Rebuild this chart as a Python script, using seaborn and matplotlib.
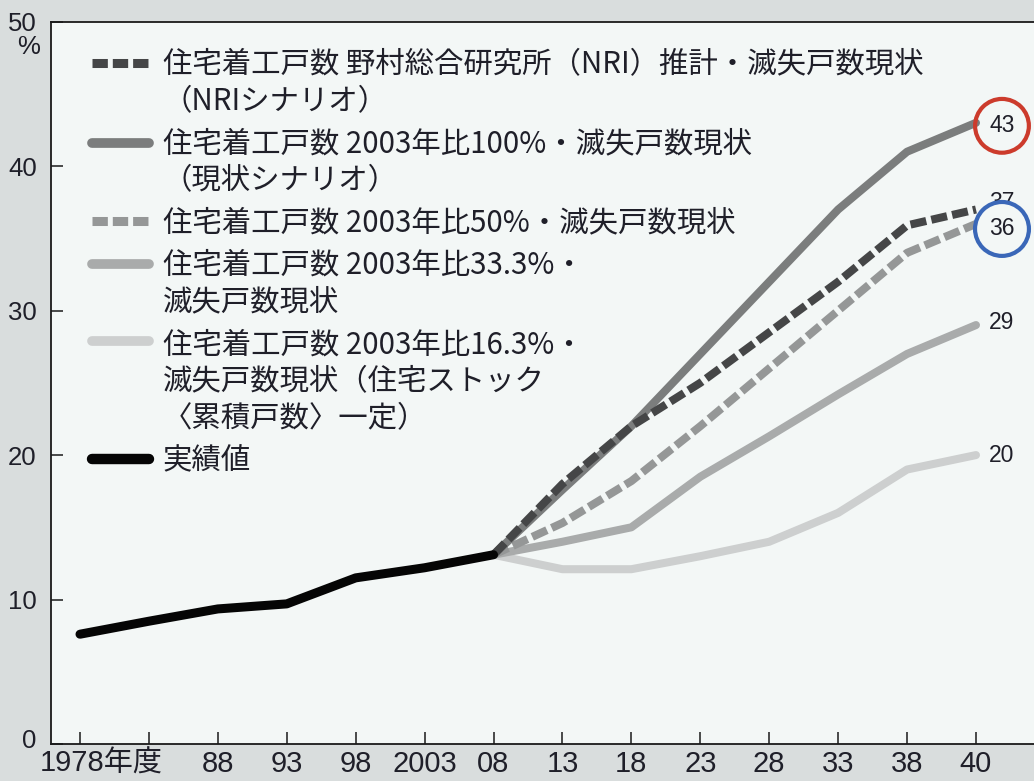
import matplotlib
matplotlib.use("Agg")
import matplotlib.pyplot as plt
from matplotlib import font_manager as fm
from matplotlib.lines import Line2D
from matplotlib.legend_handler import HandlerLine2D
from matplotlib.transforms import ScaledTranslation
import numpy as np
import pandas as pd
import seaborn as sns

# ---------------- data ----------------
periods = ['1978', '83', '88', '93', '98', '2003', '08', '13', '18', '23', '28', '33', '38', '40']
tick_labels = ['1978年度', '', '88', '93', '98', '2003', '08', '13', '18', '23', '28', '33', '38', '40']

actual_vals = [7.6, 8.5, 9.35, 9.7, 11.5, 12.2, 13.1]          # 1978 - 2008
nri_vals = [13.1, 18.0, 22.0, 25.0, 28.5, 32.0, 35.9, 37.0]     # 2008 - 2040
s100_vals = [13.1, 17.6, 22.0, 27.0, 32.0, 37.0, 41.0, 43.0]
s50_vals = [13.1, 15.3, 18.2, 22.0, 26.0, 30.0, 34.0, 36.0]
s33_vals = [13.1, 14.0, 15.0, 18.5, 21.3, 24.2, 27.0, 29.0]
s16_vals = [13.1, 12.1, 12.1, 13.0, 14.0, 16.0, 19.0, 20.0]

series_names = [
    '住宅着工戸数 野村総合研究所（NRI）推計・滅失戸数現状\n（NRIシナリオ）',
    '住宅着工戸数 2003年比100%・滅失戸数現状\n（現状シナリオ）',
    '住宅着工戸数 2003年比50%・滅失戸数現状',
    '住宅着工戸数 2003年比33.3%・\n滅失戸数現状',
    '住宅着工戸数 2003年比16.3%・\n滅失戸数現状（住宅ストック\n〈累積戸数〉一定）',
    '実績値',
]
end_labels = ['37', '43', '36', '29', '20']
yticks = [0, 10, 20, 30, 40, 50]

# ---------------- fonts ----------------
avail = {f.name for f in fm.fontManager.ttflist}
narrow = 'Liberation Sans Narrow' if 'Liberation Sans Narrow' in avail else 'Liberation Sans'
regular = 'Liberation Sans' if 'Liberation Sans' in avail else 'DejaVu Sans'
cjk = 'Noto Sans CJK JP'
plt.rcParams['font.family'] = [cjk, 'DejaVu Sans']
txt_color = '#1f1f29'

LEG_FS = 21.2
LEG_LS = 1.24

# ---------------- frame ----------------
fig = plt.figure(figsize=(10.34, 7.81), dpi=100, facecolor='#d9dddd')
W, H = 1034, 781
left_px, right_px, top_px, bot_px = 50.7, 1040, 21.7, 744
ax = fig.add_axes([left_px / W, (H - bot_px) / H, (right_px - left_px) / W, (bot_px - top_px) / H])
ax.set_facecolor('#f3f7f6')

# ---------------- lines ----------------
fut_x = list(range(6, 14))
act_x = list(range(0, 7))
styles = [
    (series_names[4], fut_x, s16_vals, '#cdcfcf', 5.8, None, 2),
    (series_names[3], fut_x, s33_vals, '#a9abab', 5.8, None, 3),
    (series_names[2], fut_x, s50_vals, '#959797', 5.8, (2.0, 0.65), 4),
    (series_names[1], fut_x, s100_vals, '#7b7d7d', 5.8, None, 5),
    (series_names[0], fut_x, nri_vals, '#454647', 5.8, (2.0, 0.65), 6),
    (series_names[5], act_x, actual_vals, '#050505', 6.5, None, 7),
]
for name, xs, ys, col, lw, dsh, z in styles:
    df = pd.DataFrame({'x': xs, 'y': ys})
    kw = {}
    if dsh is not None:
        kw['linestyle'] = (0, dsh)
        kw['dash_capstyle'] = 'butt'
    else:
        kw['solid_capstyle'] = 'round'
    sns.lineplot(data=df, x='x', y='y', ax=ax, color=col, lw=lw, zorder=z,
                 sort=False, estimator=None, legend=False, **kw)

# ---------------- axes ----------------
ax.set_xlim(-0.425, 13.0 + (right_px - 976) / 68.9)
ax.set_ylim(0, 50)
ax.set_xticks(range(len(periods)))
ax.set_xticklabels(tick_labels)
ax.set_yticks(yticks)
ax.set_yticklabels([str(v) for v in yticks])
ax.set_xlabel('')
ax.set_ylabel('')
for s in ['left', 'bottom', 'top']:
    ax.spines[s].set_color('#1a1a1a')
    ax.spines[s].set_linewidth(1.3)
ax.spines['right'].set_visible(False)
ax.tick_params(axis='both', direction='in', length=8.5, width=1.1, color='#1a1a1a')
ax.tick_params(axis='x', pad=4)
ax.tick_params(axis='y', pad=10)
for lbl in ax.get_xticklabels():
    lbl.set_family([narrow, cjk])
    lbl.set_fontsize(21 if narrow == 'Liberation Sans' else 23.5)
    lbl.set_color(txt_color)
for lbl in ax.get_yticklabels():
    lbl.set_family([regular, cjk])
    lbl.set_fontsize(18.5)
    lbl.set_color(txt_color)
first = ax.get_xticklabels()[0]
first.set_ha('left')
first.set_transform(first.get_transform() + ScaledTranslation(-0.40, 0, fig.dpi_scale_trans))
zero = ax.get_yticklabels()[0]
zero.set_transform(zero.get_transform() + ScaledTranslation(0, 0.06, fig.dpi_scale_trans))
ax.annotate('%', xy=(0, 50), xycoords=('axes fraction', 'data'), xytext=(-22, -25),
            textcoords='offset pixels', ha='center', va='center', fontsize=18.5,
            family=[regular, cjk], color=txt_color, annotation_clip=False)

# ---------------- end labels ----------------
end_vals = [nri_vals[-1], s100_vals[-1], s50_vals[-1], s33_vals[-1], s16_vals[-1]]
end_offsets = [7, -3, -5, 3, 0]
for lab, v, dy in zip(end_labels, end_vals, end_offsets):
    kw = {}
    z = 10
    if lab == '43':
        kw['bbox'] = dict(boxstyle='circle,pad=0.62', fc='none', ec='#cc3b2c', lw=3.0)
    if lab == '36':
        kw['bbox'] = dict(boxstyle='circle,pad=0.62', fc='#f3f7f6', ec='#3a67b8', lw=3.0)
        z = 12
    ax.annotate(lab, xy=(13, v), xytext=(26, dy), textcoords='offset pixels',
                ha='center', va='center', fontsize=16.5, family=[regular, cjk],
                color=txt_color, zorder=z, annotation_clip=False, **kw)


# ---------------- legend ----------------
class FirstLineHandler(HandlerLine2D):
    """Put the legend key level with the first line of a multi-line label."""
    def __init__(self, nlines, **kw):
        super().__init__(**kw)
        self.nlines = nlines

    def create_artists(self, legend, orig_handle, xdescent, ydescent, width, height,
                       fontsize, trans):
        arts = super().create_artists(legend, orig_handle, xdescent, ydescent, width,
                                      height, fontsize, trans)
        shift = (self.nlines - 1) * fontsize * LEG_LS * 1.16 / 2.0
        for a in arts:
            if isinstance(a, Line2D):
                a.set_ydata(np.asarray(a.get_ydata(), float) + shift)
        return arts


handles = [
    Line2D([], [], color='#454647', lw=6.5, linestyle=(0, (1.7, 0.55)), dash_capstyle='butt'),
    Line2D([], [], color='#7b7d7d', lw=7, solid_capstyle='round'),
    Line2D([], [], color='#959797', lw=6.5, linestyle=(0, (1.7, 0.55)), dash_capstyle='butt'),
    Line2D([], [], color='#a9abab', lw=7, solid_capstyle='round'),
    Line2D([], [], color='#cdcfcf', lw=7, solid_capstyle='round'),
    Line2D([], [], color='#050505', lw=7.5, solid_capstyle='round'),
]
hmap = {h: FirstLineHandler(n.count('\n') + 1) for h, n in zip(handles, series_names)}
leg = ax.legend(handles, series_names, loc='upper left', handler_map=hmap,
                bbox_to_anchor=(92 / W, 1 - 49 / H), bbox_transform=fig.transFigure,
                frameon=False, borderpad=0, borderaxespad=0, handlelength=1.95,
                handletextpad=0.45, labelspacing=0.39, prop={'family': [cjk], 'size': LEG_FS})
for t in leg.get_texts():
    t.set_color(txt_color)
    t.set_linespacing(LEG_LS)

fig.savefig('out.png', dpi=100, facecolor=fig.get_facecolor())
